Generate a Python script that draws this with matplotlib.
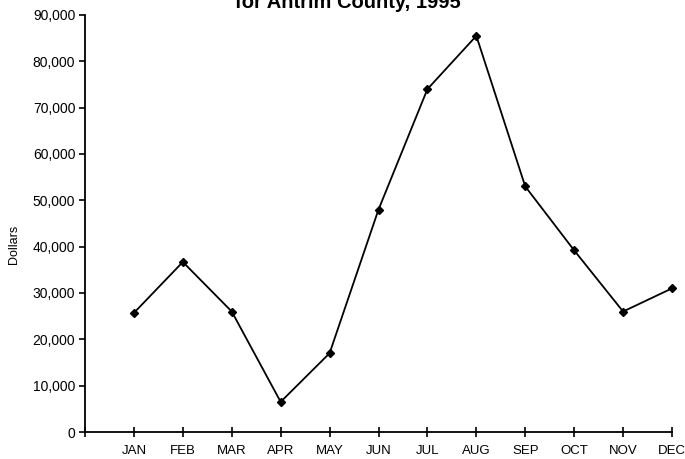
import matplotlib
matplotlib.use("Agg")
import matplotlib.pyplot as plt
from matplotlib.ticker import FuncFormatter

months = ["JAN", "FEB", "MAR", "APR", "MAY", "JUN", "JUL", "AUG", "SEP", "OCT", "NOV", "DEC"]
dollars = [25700, 36700, 26000, 6500, 17000, 48000, 74000, 85500, 53000, 39200, 26000, 31000]
title_text = "for Antrim County, 1995"
y_label = "Dollars"

plt.rcParams['font.family'] = ['Liberation Sans', 'DejaVu Sans']

fig = plt.figure(figsize=(6.85, 4.59), dpi=100)
ax = fig.add_axes([85/685, (459-432)/459, (672-85)/685, (432-15)/459])

x = list(range(1, len(months) + 1))
ax.plot(x, dollars, color='black', linewidth=1.3, marker='D', markersize=4,
        markerfacecolor='black', markeredgecolor='black', clip_on=False)

ax.set_xlim(0, 12)
ax.set_ylim(0, 90000)
ax.set_xticks(range(0, 13))
ax.set_xticklabels([""] + months)
ax.set_yticks(range(0, 90001, 10000))
ax.yaxis.set_major_formatter(FuncFormatter(lambda v, p: f"{int(v):,}"))

for s in ['top', 'right']:
    ax.spines[s].set_visible(False)
for s in ['left', 'bottom']:
    ax.spines[s].set_linewidth(1.3)
    ax.spines[s].set_color('black')

ax.tick_params(axis='y', direction='out', length=4, width=1.2, labelsize=10, pad=3)
ax.tick_params(axis='x', direction='inout', length=7, width=1.2, labelsize=9.5, pad=6)

ax.set_ylabel(y_label, fontsize=9)
ax.yaxis.set_label_coords(-0.11, 0.45)

fig.text(0.508, 1 - 8/459, title_text, ha='center', va='baseline',
         fontsize=14.5, fontweight='bold')

fig.savefig("out.png", dpi=100)
